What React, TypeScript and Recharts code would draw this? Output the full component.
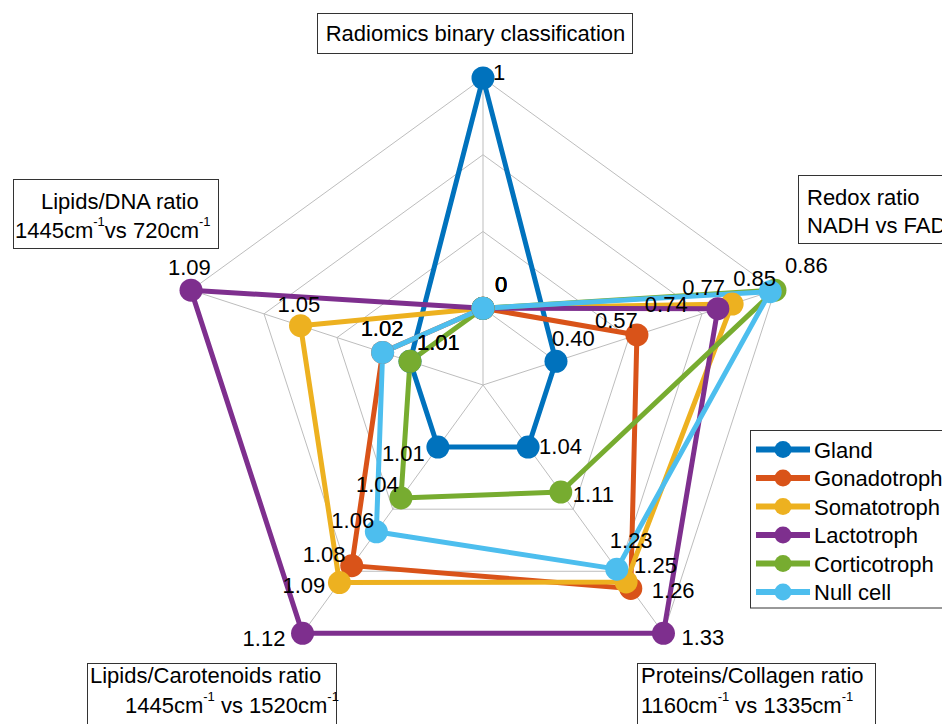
import React from 'react';
import {
  RadarChart,
  Radar,
  PolarGrid,
  PolarAngleAxis,
  PolarRadiusAxis,
  Legend,
} from 'recharts';

const FONT = '"Liberation Sans", Arial, Helvetica, sans-serif';

// Axes, clockwise from the top
const axisKeys = ['radiomics', 'redox', 'proteins', 'carotenoids', 'dna'];
const axisPrecision = [0, 2, 2, 2, 2];

const seriesNames = ['Gland', 'Gonadotroph', 'Somatotroph', 'Lactotroph', 'Corticotroph', 'Null cell'];
const seriesColors = ['#0072BD', '#D95319', '#EDB120', '#7E2F8E', '#77AC30', '#4DBEEE'];

// Values per series, in axis order:
// radiomics, redox, proteins/collagen, lipids/carotenoids, lipids/DNA
const gland = [1, 0.4, 1.04, 1.01, 1.01];
const gonadotroph = [0, 0.57, 1.26, 1.08, 1.02];
const somatotroph = [0, 0.77, 1.25, 1.09, 1.05];
const lactotroph = [0, 0.74, 1.33, 1.12, 1.09];
const corticotroph = [0, 0.86, 1.11, 1.04, 1.01];
const nullCell = [0, 0.85, 1.23, 1.06, 1.02];

const seriesValues = [gland, gonadotroph, somatotroph, lactotroph, corticotroph, nullCell];

// Web geometry: the axis minimum sits on the first ring, the maximum on the last
const CX = 483;
const CY = 385;
const OUTER_R = 307;
const AXES_INTERVAL = 3;
const AXES_OFFSET = 1;
const rings = [1, 2, 3, 4].map((k) => (k / (AXES_INTERVAL + AXES_OFFSET)) * OUTER_R);

const axisLimits = axisKeys.map((_, a) => {
  const col = seriesValues.map((v) => v[a]);
  return [Math.min(...col), Math.max(...col)];
});

const scaled = (a: number, v: number) => {
  const [lo, hi] = axisLimits[a];
  const t = hi === lo ? 0 : (v - lo) / (hi - lo);
  return (AXES_OFFSET + AXES_INTERVAL * t) / (AXES_OFFSET + AXES_INTERVAL);
};

const chartData = axisKeys.map((key, a) => {
  const row: Record<string, any> = { axis: key };
  seriesValues.forEach((vals, s) => {
    row[`s${s}`] = scaled(a, vals[a]);
  });
  return row;
});

// Value label placement relative to each marker (text start, baseline)
const labelOffsets: number[][][] = [
  [[10, 2], [-4, -15], [11, 7], [-56, 14], [7, -11]],
  [[12, -16], [-42, -7], [21, 10], [-49, -4], [-22, -16]],
  [[12, -16], [-50, -9], [8, -9], [-57, 10], [-23, -14]],
  [[12, -16], [-73, 3], [18, 12], [-60, 13], [-23, -15]],
  [[12, -16], [10, -17], [12, 10], [-45, -6], [7, -11]],
  [[12, -16], [-37, -6], [-7, -21], [-45, -4], [-22, -16]],
];

type Part = { t: string; sup?: boolean };
type BoxLine = { x: number; y: number; anchor?: 'start' | 'middle'; parts: Part[] };
type AxisBox = { rect: [number, number, number, number]; lines: BoxLine[] };

const axisBoxes: Record<string, AxisBox> = {
  radiomics: {
    rect: [317, 13, 315, 40],
    lines: [{ x: 475.5, y: 41, anchor: 'middle', parts: [{ t: 'Radiomics binary classification' }] }],
  },
  redox: {
    rect: [798, 175, 200, 68],
    lines: [
      { x: 807, y: 205, parts: [{ t: 'Redox ratio' }] },
      { x: 807, y: 233, parts: [{ t: 'NADH vs FAD' }] },
    ],
  },
  proteins: {
    rect: [637, 663, 238, 90],
    lines: [
      { x: 641, y: 683, parts: [{ t: 'Proteins/Collagen ratio' }] },
      {
        x: 641,
        y: 713,
        parts: [{ t: '1160cm' }, { t: '-1', sup: true }, { t: ' vs 1335cm' }, { t: '-1', sup: true }],
      },
    ],
  },
  carotenoids: {
    rect: [87, 663, 249, 90],
    lines: [
      { x: 90, y: 683, parts: [{ t: 'Lipids/Carotenoids ratio' }] },
      {
        x: 125,
        y: 713,
        parts: [{ t: '1445cm' }, { t: '-1', sup: true }, { t: ' vs 1520cm' }, { t: '-1', sup: true }],
      },
    ],
  },
  dna: {
    rect: [13, 179, 205, 69],
    lines: [
      { x: 41, y: 209, parts: [{ t: 'Lipids/DNA ratio' }] },
      {
        x: 15,
        y: 238,
        parts: [{ t: '1445cm' }, { t: '-1', sup: true }, { t: 'vs 720cm' }, { t: '-1', sup: true }],
      },
    ],
  },
};

const renderLine = (line: BoxLine, key: string) => {
  let shift = 0;
  return (
    <text
      key={key}
      x={line.x}
      y={line.y}
      textAnchor={line.anchor || 'start'}
      fontFamily={FONT}
      fontSize={22}
      fill="#000"
    >
      {line.parts.map((p, i) => {
        const dy = p.sup ? -12 - shift : -shift;
        shift = p.sup ? -12 : 0;
        return (
          <tspan key={i} dy={dy} fontSize={p.sup ? 13 : 22}>
            {p.t}
          </tspan>
        );
      })}
    </text>
  );
};

const renderAxisBox = (props: any) => {
  const key = props?.payload?.value;
  const box = axisBoxes[key];
  if (!box) return <g />;
  const [x, y, w, h] = box.rect;
  return (
    <g key={`box-${key}`}>
      <rect x={x + 0.5} y={y + 0.5} width={w} height={h} fill="#fff" stroke="#333" strokeWidth={1} />
      {box.lines.map((l, i) => renderLine(l, `${key}-${i}`))}
    </g>
  );
};

const makeMarker = (s: number) => (p: any) => (
  <circle key={`m-${s}-${p.index}`} cx={p.cx} cy={p.cy} r={11.5} fill={seriesColors[s]} />
);

const makeValueLabel = (s: number) => (p: any) => {
  const a = p.index;
  const [dx, dy] = labelOffsets[s][a];
  return (
    <text
      key={`v-${s}-${a}`}
      x={p.cx + dx}
      y={p.cy + dy}
      fontFamily={FONT}
      fontSize={22}
      fill="#000"
    >
      {seriesValues[s][a].toFixed(axisPrecision[a])}
    </text>
  );
};

const renderLegend = () => (
  <svg width={192} height={180} style={{ display: 'block' }}>
    <rect x={0.5} y={0.5} width={260} height={177.5} fill="#fff" stroke="#333" strokeWidth={1} />
    {seriesNames.map((name, i) => {
      const y = 19.5 + i * 28.5;
      return (
        <g key={name}>
          <line x1={6} x2={60} y1={y} y2={y} stroke={seriesColors[i]} strokeWidth={6} />
          <circle cx={33} cy={y} r={8.5} fill={seriesColors[i]} />
          <text x={64} y={y + 8} fontFamily={FONT} fontSize={22} fill="#000">
            {name}
          </text>
        </g>
      );
    })}
  </svg>
);

export default function App() {
  return (
    <div
      style={{
        position: 'absolute',
        left: 0,
        top: 0,
        width: 942,
        height: 724,
        overflow: 'hidden',
        background: '#fff',
      }}
    >
      <RadarChart
        width={942}
        height={724}
        data={chartData}
        cx={CX}
        cy={CY}
        outerRadius={OUTER_R}
        margin={{ top: 0, right: 0, bottom: 0, left: 0 }}
      >
        <PolarGrid gridType="polygon" polarRadius={rings} stroke="#bdbdbd" strokeWidth={1} />
        <PolarAngleAxis dataKey="axis" tick={renderAxisBox} axisLine={false} tickLine={false} />
        <PolarRadiusAxis domain={[0, 1]} type="number" tick={false} axisLine={false} />
        {seriesNames.map((name, s) => (
          <Radar
            key={name}
            name={name}
            dataKey={`s${s}`}
            stroke={seriesColors[s]}
            strokeWidth={5}
            strokeLinejoin="round"
            fill="none"
            fillOpacity={0}
            dot={makeMarker(s)}
            isAnimationActive={false}
          />
        ))}
        {seriesNames.map((name, s) => (
          <Radar
            key={`labels-${name}`}
            dataKey={`s${s}`}
            stroke="none"
            fill="none"
            fillOpacity={0}
            legendType="none"
            dot={makeValueLabel(s)}
            isAnimationActive={false}
          />
        ))}
        <Legend
          content={renderLegend}
          wrapperStyle={{ left: 750, top: 430, right: 'auto', bottom: 'auto', width: 192, height: 180 }}
        />
      </RadarChart>
    </div>
  );
}
